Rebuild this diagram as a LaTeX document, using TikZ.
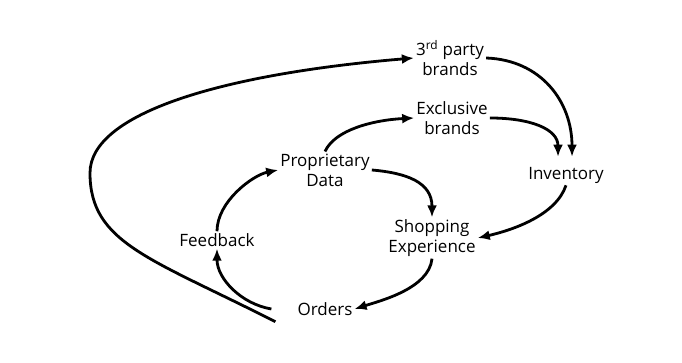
\documentclass[tikz,border=0pt]{standalone}
\usepackage{fontspec}
\setmainfont{Open Sans}
\usetikzlibrary{arrows.meta,positioning}
\tikzset{>={Latex[length=12pt,width=10pt]}}
\tikzset{
  every node/.style={font=\fontsize{17}{20}\selectfont, align=center, inner sep=2pt},
  flow/.style={->, line width=2.8pt}
}

\begin{document}
\begin{tikzpicture}[x=1pt,y=1pt]
  \useasboundingbox (0,0) rectangle (682,363);
  % the stages
  \node (third) at (450,305) {3\textsuperscript{rd} party\\brands};
  \node (exclusive) at (452,245) {Exclusive\\brands};
  \node (propdata) at (325,193) {Proprietary\\Data};
  \node (inventory) at (566,188) {Inventory};
  \node (feedback) at (217,123) {Feedback};
  \node (shopping) at (432,125) {Shopping\\Experience};
  \node (orders) at (325,54) {Orders};
  \coordinate (loopleft) at (90,190);
  % the big loop round everything
  \draw[flow] ([xshift=-20pt,yshift=-4pt]orders.south west)
    .. controls (150,105) and (90,120) .. (loopleft)
    .. controls (90,250) and (223,289) .. (third.west);
  % the inner flows
  \draw[flow] (third.east) .. controls +(55,-2) and +(0,55) .. ([xshift=6pt,yshift=8pt]inventory.north);
  \draw[flow] (exclusive.east) .. controls +(40,0) and +(0,28) .. ([xshift=-8pt,yshift=8pt]inventory.north);
  \draw[flow] (propdata.north) .. controls +(10,22) and +(-40,-2) .. (exclusive.west);
  \draw[flow] (propdata.east) .. controls +(35,-3) and +(0,35) .. (shopping.north);
  \draw[flow] (inventory.south) .. controls +(-10,-30) and +(35,8) .. (shopping.east);
  \draw[flow] (shopping.south) .. controls +(-3,-30) and +(25,8) .. (orders.east);
  \draw[flow] ([xshift=-24pt]orders.west) .. controls +(-30,5) and +(0,-30) .. (feedback.south);
  \draw[flow] (feedback.north) .. controls +(0,30) and +(-25,-5) .. (propdata.west);
\end{tikzpicture}
\end{document}
